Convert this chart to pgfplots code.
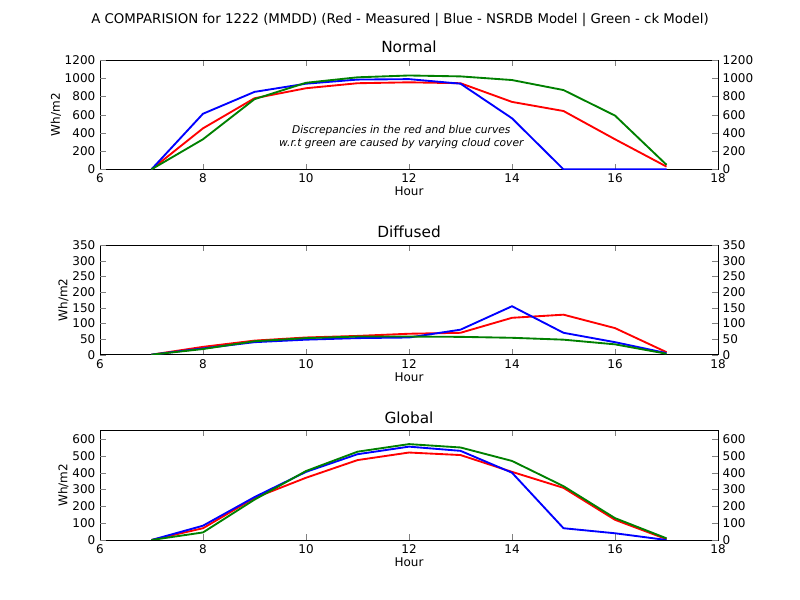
\documentclass[border=0pt]{standalone}
\usepackage{pgfplots}
\pgfplotsset{compat=1.18}
\usepackage{fontspec}
\setmainfont{DejaVu Sans}
\begin{document}
\begin{tikzpicture}
\path (0pt,0pt) rectangle (600pt,450pt);
\pgfplotsset{every axis/.style={scale only axis, width=463.5pt, height=82pt, xmin=6, xmax=18, xtick={6,8,...,18},
 /pgf/number format/assume math mode=true, /pgf/number format/1000 sep={}, tick label style={font=\fontsize{9}{10}\selectfont}, label style={font=\fontsize{9}{10}\selectfont},
 title style={font=\fontsize{11.5}{13}\selectfont, yshift=-4pt}, tick align=inside, anchor=south west, xlabel={Hour}, ylabel={Wh/m2},
 xlabel style={yshift=4pt}, ylabel style={yshift=-4pt}},
 every axis plot/.style={line width=1.4pt, no marks}}
\newcommand\rightax[3]{\begin{axis}[at={(75pt,#1)}, ymin=0, ymax=#2, ytick={#3}, yticklabel pos=right, xticklabels={}, xlabel={}, ylabel={}, axis line style={draw=none}, xtick=\empty, title={}]\addplot[draw=none] coordinates {(7,0)};\end{axis}}
% Top
\begin{axis}[at={(75pt,323pt)}, ymin=0, ymax=1200, ytick={0,200,...,1200}, ytick pos=left, title={Normal}]
\addplot[red] coordinates {(7,0)(8,450)(9,780)(10,890)(11,945)(12,955)(13,945)(14,740)(15,640)(16,330)(17,30)};
\addplot[blue] coordinates {(7,0)(8,610)(9,850)(10,940)(11,985)(12,990)(13,940)(14,560)(15,0)(16,0)(17,0)};
\addplot[green!50!black] coordinates {(7,0)(8,330)(9,770)(10,950)(11,1010)(12,1030)(13,1020)(14,980)(15,870)(16,590)(17,50)};
\node[font=\fontsize{8}{10}\selectfont\itshape, align=center] at (axis cs:11.85,355) {Discrepancies in the red and blue curves\\w.r.t green are caused by varying cloud cover};
\end{axis}
\rightax{323pt}{1200}{0,200,...,1200}
% Middle
\begin{axis}[at={(75pt,184pt)}, ymin=0, ymax=350, ytick={0,50,...,350}, ytick pos=left, title={Diffused}]
\addplot[red] coordinates {(7,0)(8,25)(9,45)(10,55)(11,60)(12,67)(13,70)(14,118)(15,128)(16,85)(17,8)};
\addplot[blue] coordinates {(7,0)(8,20)(9,40)(10,48)(11,53)(12,55)(13,80)(14,155)(15,70)(16,40)(17,5)};
\addplot[green!50!black] coordinates {(7,0)(8,18)(9,43)(10,53)(11,58)(12,58)(13,57)(14,54)(15,48)(16,33)(17,3)};
\end{axis}
\rightax{184pt}{350}{0,50,...,350}
% Bottom
\begin{axis}[at={(75pt,45pt)}, ymin=0, ymax=650, ytick={0,100,...,600}, ytick pos=left, title={Global}]
\addplot[red] coordinates {(7,0)(8,70)(9,250)(10,370)(11,475)(12,520)(13,505)(14,405)(15,310)(16,120)(17,5)};
\addplot[blue] coordinates {(7,0)(8,85)(9,255)(10,405)(11,510)(12,555)(13,530)(14,400)(15,70)(16,40)(17,0)};
\addplot[green!50!black] coordinates {(7,0)(8,45)(9,240)(10,410)(11,525)(12,570)(13,550)(14,470)(15,320)(16,130)(17,10)};
\end{axis}
\rightax{45pt}{650}{0,100,...,600}
\node[font=\fontsize{10}{12}\selectfont] at (300pt,435pt) {A COMPARISION for 1222 (MMDD) (Red - Measured | Blue - NSRDB Model | Green - ck Model)};
\end{tikzpicture}
\end{document}
